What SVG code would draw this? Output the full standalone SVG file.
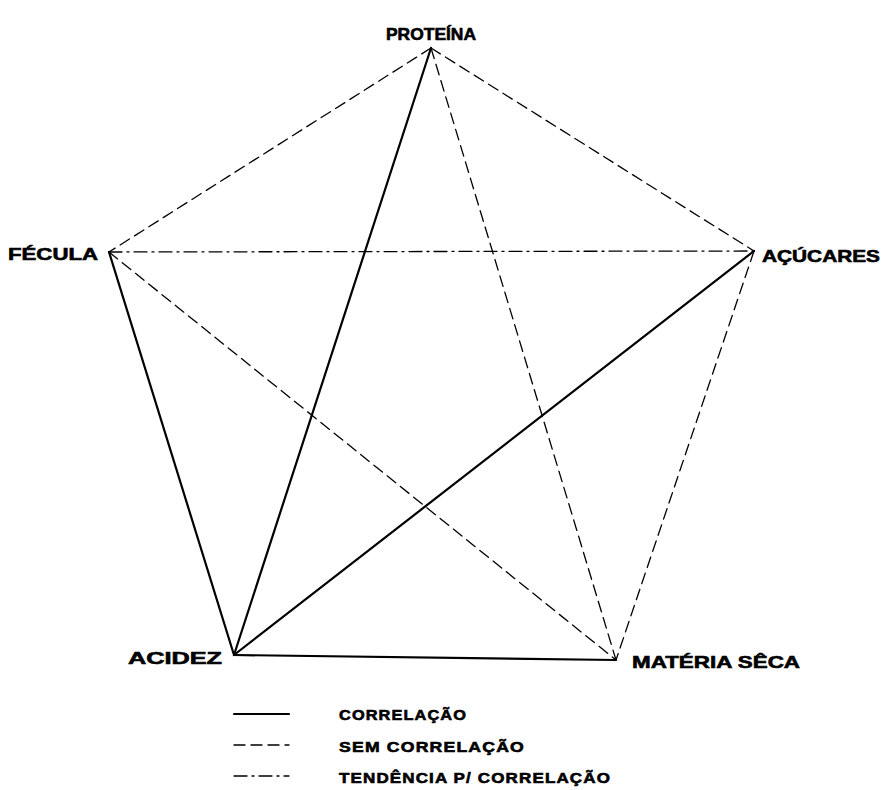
<svg xmlns="http://www.w3.org/2000/svg" width="892" height="790" viewBox="0 0 892 790">
<style>
.bg{fill:#fff}
.l{stroke:#000;fill:none;stroke-linecap:round}
.s{stroke-width:2.2}
.d{stroke-width:1.3;stroke-dasharray:11 6}
.dd{stroke-width:1.3;stroke-dasharray:13 5 2 5}
.t{font-family:"Liberation Sans",Arial,sans-serif;font-weight:bold;fill:#000;stroke:#000;stroke-width:0.6}
.n{font-size:17px}
.g{font-size:15px;letter-spacing:1px}
</style>
<rect class="bg" width="892" height="790"/>
<g id="connectors">
<line class="l s" x1="431" y1="48" x2="234" y2="655"/>
<line class="l s" x1="109" y1="252" x2="234" y2="655"/>
<line class="l s" x1="234" y1="655" x2="616" y2="660"/>
<line class="l s" x1="234" y1="655" x2="754" y2="251"/>
<line class="l d" x1="431" y1="48" x2="109" y2="252"/>
<line class="l d" x1="431" y1="48" x2="754" y2="251"/>
<line class="l d" x1="431" y1="48" x2="616" y2="660"/>
<line class="l d" x1="109" y1="252" x2="616" y2="660"/>
<line class="l d" x1="754" y1="251" x2="616" y2="660"/>
<line class="l dd" x1="109" y1="252" x2="754" y2="251"/>
</g>
<g id="proteina"><text class="t n" x="386" y="40" textLength="90" lengthAdjust="spacingAndGlyphs">PROTEÍNA</text></g>
<g id="fecula"><text class="t n" x="8" y="260" textLength="90" lengthAdjust="spacingAndGlyphs">FÉCULA</text></g>
<g id="acucares"><text class="t n" x="762" y="262" textLength="118" lengthAdjust="spacingAndGlyphs">AÇÚCARES</text></g>
<g id="acidez"><text class="t n" x="128" y="664" textLength="94" lengthAdjust="spacingAndGlyphs">ACIDEZ</text></g>
<g id="materia-seca"><text class="t n" x="632" y="668" textLength="168" lengthAdjust="spacingAndGlyphs">MATÉRIA SÊCA</text></g>
<g id="legend">
<line class="l s" x1="234" y1="714" x2="289" y2="714"/>
<line class="l d" x1="234" y1="745" x2="289" y2="745"/>
<line class="l dd" x1="234" y1="776" x2="289" y2="776"/>
<text class="t g" x="339" y="720" textLength="128" lengthAdjust="spacingAndGlyphs">CORRELAÇÃO</text>
<text class="t g" x="339" y="752" textLength="186" lengthAdjust="spacingAndGlyphs">SEM CORRELAÇÃO</text>
<text class="t g" x="339" y="783" textLength="272" lengthAdjust="spacingAndGlyphs">TENDÊNCIA P/ CORRELAÇÃO</text>
</g>
</svg>
